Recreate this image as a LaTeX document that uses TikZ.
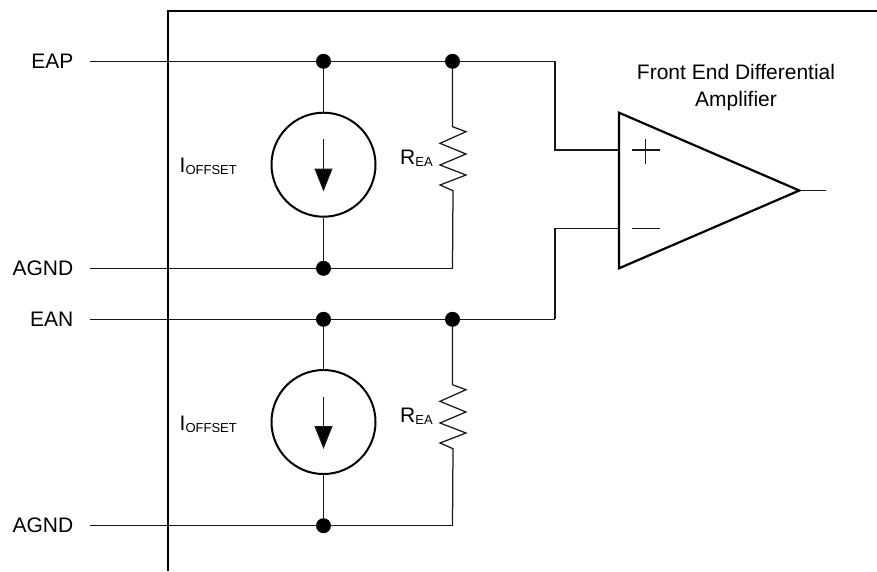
\documentclass[tikz,border=0pt]{standalone}
\usepackage{fontspec}
\setmainfont{Liberation Sans}
\usetikzlibrary{arrows.meta}
\tikzset{
  wire/.style={black!90,line width=1.25pt},
  heavy/.style={black,line width=2.2pt,line join=miter},
  dot/.style={circle,fill=black,inner sep=0pt,minimum size=15pt},
  source/.style={circle,draw=black,line width=2pt,inner sep=0pt,minimum size=104pt},
  pin/.style={anchor=east,inner sep=0pt,font=\fontsize{21}{24}\selectfont},
  lab/.style={anchor=base west,inner sep=0pt,font=\fontsize{21}{24}\selectfont},
  flow/.style={wire,-{Triangle[length=23pt,width=18pt,fill=black]}}
}
\newcommand{\subtxt}[1]{\raisebox{-2pt}{\fontsize{13}{13}\selectfont #1}}
\begin{document}
\begin{tikzpicture}[x=1pt,y=-1pt]
\useasboundingbox (0,0) rectangle (877,571);
\fill[white] (0,0) rectangle (877,571);

\draw[heavy] (877,11) -- (168,11) -- (168,571);

\begin{scope}[shift={(0,0)}] %upper input
\node[pin] (eap) at (73.5,61.3) {EAP};
\node[pin] (agnda) at (73.5,268.3) {AGND};
\coordinate (eape) at (90,61.3);
\coordinate (agndae) at (90,268.3);
\node[dot] (topa) at (323.5,61.3) {};
\node[dot] (topb) at (452.5,61.3) {};
\node[dot] (bota) at (323.5,268.3) {};
\coordinate (bena) at (555,61.3);
\coordinate (corna) at (452.5,268.3);
\node[source] (srca) at (323.5,164.7) {};
\coordinate (arra) at (323.5,139);
\coordinate (arrb) at (323.5,191.5);
\node[lab] at (179.5,172.7) {I\subtxt{OFFSET}};
\node[lab] at (400,164) {R\subtxt{EA}};
\draw[wire] (eape) -- (topa) -- (topb) -- (bena);
\draw[wire] (agndae) -- (bota) -- (corna);
\draw[wire] (topa) -- (srca);
\draw[wire] (srca) -- (bota);
\draw[flow] (arra) -- (arrb);
\draw[wire] (topb) -- (452.5,126.7) -- ++(13.5,5) -- ++(-26,11.6) -- ++(26,10.7)
 -- ++(-26,11) -- ++(26,10) -- ++(-26,10) -- ++(13,5.7) -- (corna);
\end{scope}

\begin{scope}[shift={(0,258)}] %lower input
\node[pin] (ean) at (73.5,61.3) {EAN};
\node[pin] (agndb) at (73.5,267.7) {AGND};
\coordinate (eane) at (90,61.3);
\coordinate (agndbe) at (90,267.7);
\node[dot] (topc) at (323.5,61.3) {};
\node[dot] (topd) at (452.5,61.3) {};
\node[dot] (botb) at (323.5,267.7) {};
\coordinate (benb) at (555,61.3);
\coordinate (cornb) at (452.5,267.7);
\node[source] (srcb) at (323.5,164) {};
\coordinate (arrc) at (323.5,138.7);
\coordinate (arrd) at (323.5,191);
\node[lab] at (179.5,172) {I\subtxt{OFFSET}};
\node[lab] at (400,164) {R\subtxt{EA}};
\draw[wire] (eane) -- (topc) -- (topd) -- (benb);
\draw[wire] (agndbe) -- (botb) -- (cornb);
\draw[wire] (topc) -- (srcb);
\draw[wire] (srcb) -- (botb);
\draw[flow] (arrc) -- (arrd);
\draw[wire] (topd) -- (452.5,126.7) -- ++(13.5,5) -- ++(-26,11.6) -- ++(26,10.7)
 -- ++(-26,11) -- ++(26,10) -- ++(-26,10) -- ++(13,5.7) -- (cornb);
\end{scope}

%amplifier
\coordinate (ampt) at (619,112.7);
\coordinate (ampb) at (619,268.3);
\coordinate (ampo) at (799.3,190.5);
\coordinate (out) at (825.7,190.5);
\coordinate (inp) at (619,150);
\coordinate (inm) at (619,228.3);
\coordinate (kneep) at (555,150);
\coordinate (kneem) at (555,228.3);
\draw[wire] (bena) -- (kneep) -- (inp);
\draw[wire] (benb) -- (kneem) -- (inm);
\draw[wire] (ampo) -- (out);
\draw[heavy] (ampt) -- (ampo) -- (ampb) -- cycle;
\draw[wire] (632,150) -- ++(27.5,0) (645.7,139) -- ++(0,25);
\draw[wire] (632,228.3) -- ++(27.5,0);
\node[align=center,inner sep=0pt,font=\fontsize{21}{27}\selectfont] (title) at (736,88) {Front End Differential\\Amplifier};
\end{tikzpicture}
\end{document}
